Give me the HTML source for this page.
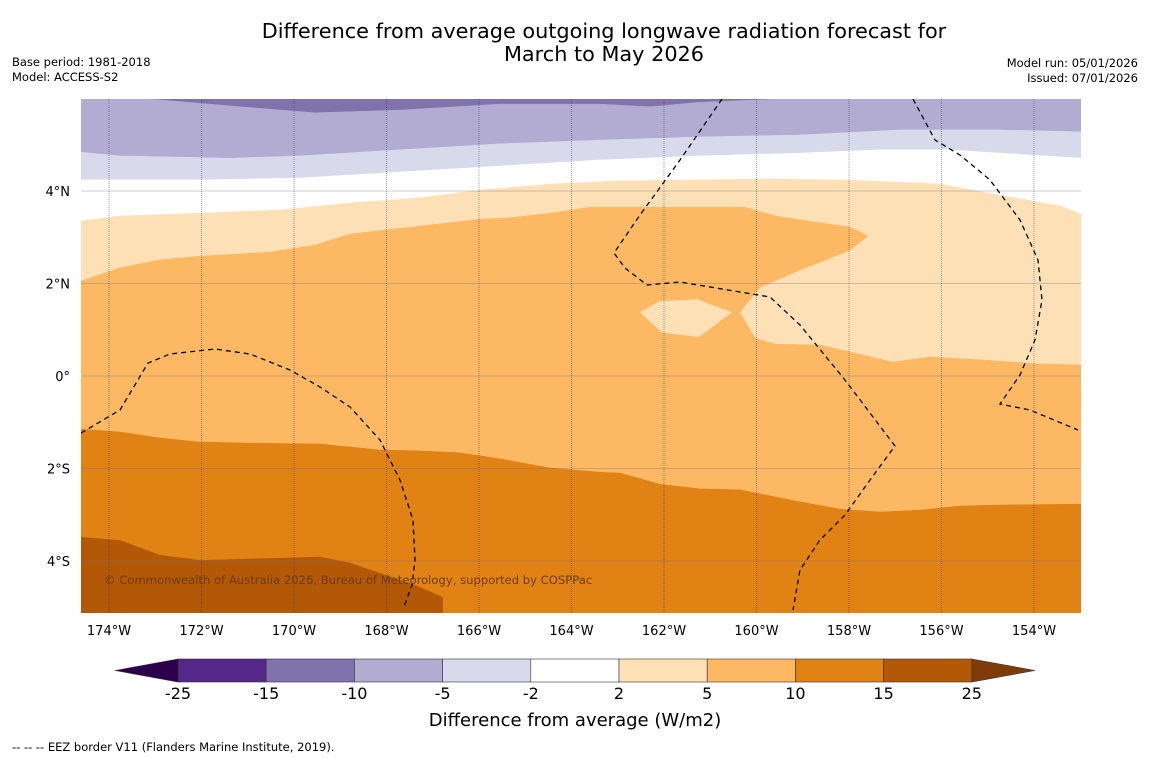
<!DOCTYPE html>
<html><head><meta charset="utf-8"><style>
body{margin:0;background:#fefefe;width:1150px;height:758px;overflow:hidden;font-family:"DejaVu Sans",sans-serif}
svg{position:absolute;left:0;top:0}
</style></head><body>
<svg id="c" width="1150" height="758" font-family="DejaVu Sans, sans-serif">
<text x="604" y="38" font-size="20.8" text-anchor="middle">Difference from average outgoing longwave radiation forecast for</text>
<text x="604" y="61" font-size="20.8" text-anchor="middle">March to May 2026</text>
<text x="12" y="66" font-size="11.5">Base period: 1981-2018</text>
<text x="12" y="81" font-size="11.5">Model: ACCESS-S2</text>
<text x="1138" y="67" font-size="11.5" text-anchor="end">Model run: 05/01/2026</text>
<text x="1138" y="82" font-size="11.5" text-anchor="end">Issued: 07/01/2026</text>
<defs><clipPath id="mc"><rect x="81" y="99" width="1000" height="514"/></clipPath></defs>
<g id="map" clip-path="url(#mc)"></g>
<g id="axes"></g>
<text x="104" y="584" font-size="11.6" fill="#6b3d12">© Commonwealth of Australia 2026, Bureau of Meteorology, supported by COSPPac</text>
<g id="cbar"></g>
<text x="575" y="726" font-size="18" text-anchor="middle">Difference from average (W/m2)</text>
<text x="12" y="751" font-size="11.5">--  --  -- EEZ border V11 (Flanders Marine Institute, 2019).</text>
</svg>
<script>
// axis extents
const lonTicks=[-174,-172,-170,-168,-166,-164,-162,-160,-158,-156,-154];
const lonLabels=["174°W","172°W","170°W","168°W","166°W","164°W","162°W","160°W","158°W","156°W","154°W"];
const latTicks=[4,2,0,-2,-4];
const latLabels=["4°N","2°N","0°","2°S","4°S"];
const levels=[-25,-15,-10,-5,-2,2,5,10,15,25];
const levelColors=["#542788","#8073ac","#b2abd2","#d8daeb","#ffffff","#fee0b6","#fdb863","#e08214","#b35806"];
// contour boundaries (lon / lat)
const b1Lon=[-174.7,-173.11,-171.38,-169.55,-167.71,-165.55,-163.38,-162.30,-161.22,-159.49,-152.9];
const b1Lat=[6.08,5.99,5.84,5.69,5.75,5.88,5.88,5.82,5.92,5.99,6.08];
const b2Lon=[-174.61,-173.76,-171.38,-169.87,-167.71,-165.55,-163.38,-161.22,-159.06,-156.90,-154.74,-152.98];
const b2Lat=[4.84,4.76,4.71,4.76,4.89,5.02,5.10,5.17,5.21,5.32,5.32,5.28];
const b3Lon=[-174.61,-172.03,-169.87,-167.71,-165.55,-163.38,-161.22,-159.06,-157.33,-155.82,-154.74,-152.98];
const b3Lat=[4.24,4.24,4.28,4.41,4.54,4.67,4.76,4.82,4.89,4.89,4.82,4.71];
const b4Lon=[-174.61,-173.76,-172.03,-170.30,-168.79,-167.28,-165.98,-164.46,-162.95,-161.22,-159.92,-158.19,-156.90,-156.03,-154.74,-153.44,-152.98];
const b4Lat=[3.35,3.46,3.52,3.59,3.74,3.85,4.02,4.15,4.22,4.24,4.26,4.24,4.19,4.15,3.91,3.68,3.50];
const b5Lon=[-174.61,-173.76,-172.90,-172.03,-170.52,-169.55,-168.79,-167.28,-165.98,-165.33,-164.46,-163.60,-161.22,-160.25,-159.92,-159.49,-157.98,-157.59,-157.98,-159.06,-159.92,-160.36,-160.03,-159.60,-158.63,-157.98,-157.05,-156.25,-155.17,-153.87,-152.98];
const b5Lat=[2.05,2.34,2.51,2.59,2.68,2.83,3.07,3.24,3.39,3.42,3.52,3.65,3.65,3.65,3.55,3.44,3.22,3.03,2.72,2.29,1.92,1.38,0.82,0.69,0.67,0.52,0.30,0.41,0.35,0.26,0.24];
const isleLon=[-162.52,-162.09,-161.29,-160.53,-161.24,-162.06];
const isleLat=[1.38,1.62,1.66,1.38,0.84,0.95];
const b6Lon=[-174.61,-173.76,-172.90,-172.03,-170.95,-169.44,-168.14,-167.28,-166.41,-165.55,-164.46,-163.38,-162.95,-162.09,-161.22,-160.36,-159.06,-158.19,-157.33,-156.46,-155.60,-154.74,-152.98];
const b6Lat=[-1.15,-1.21,-1.34,-1.43,-1.45,-1.47,-1.60,-1.62,-1.66,-1.79,-1.99,-2.08,-2.10,-2.34,-2.44,-2.46,-2.72,-2.88,-2.94,-2.90,-2.81,-2.79,-2.77];
const b7Lon=[-174.61,-173.76,-172.90,-172.03,-170.52,-169.44,-168.79,-168.14,-167.38,-166.78,-166.78];
const b7Lat=[-3.48,-3.55,-3.87,-3.98,-3.94,-3.91,-4.04,-4.26,-4.52,-4.78,-5.2];

const X=lon=>109+(lon+174)*46.25;
const Y=lat=>376-lat*46.25;
const NS="http://www.w3.org/2000/svg";
const map=document.getElementById('map'),axes=document.getElementById('axes'),cb=document.getElementById('cbar');
function mk(tag,attrs,parent){const e=document.createElementNS(NS,tag);for(const k in attrs)e.setAttribute(k,attrs[k]);parent.appendChild(e);return e;}
function pts(lons,lats){return lons.map((l,i)=>X(l).toFixed(1)+','+Y(lats[i]).toFixed(1));}
let bg=mk('rect',{x:81,y:99,width:1000,height:514,fill:levelColors[1]},map);


const bands=[[b1Lon,b1Lat,2,'band-minus10-to-minus5'],[b2Lon,b2Lat,3,'band-minus5-to-minus2'],[b3Lon,b3Lat,4,'band-minus2-to-2'],[b4Lon,b4Lat,5,'band-2-to-5'],[b5Lon,b5Lat,6,'band-5-to-10'],[b6Lon,b6Lat,7,'band-10-to-15']];
bands.forEach(b=>{
  const p=pts(b[0],b[1]);
  const poly=mk('polygon',{points:p.join(' ')+' 1090,620 70,620',fill:levelColors[b[2]],stroke:levelColors[b[2]],'stroke-width':0.5},map);
  
  
});
const isle=mk('polygon',{points:pts(isleLon,isleLat).join(' '),fill:levelColors[5]},map);


const b7=mk('polygon',{points:pts(b7Lon,b7Lat).join(' ')+' 70,620',fill:levelColors[8]},map);


latTicks.forEach((t,i)=>{
  const l=mk('line',{x1:81,x2:1081,y1:Y(t),y2:Y(t),stroke:'rgba(120,110,130,0.35)','stroke-width':1},map);
  
  
  const tx=mk('text',{x:70,y:Y(t)+5,'font-size':13,'text-anchor':'end'},axes);tx.textContent=latLabels[i];
  
  
});
lonTicks.forEach((t,i)=>{
  const l=mk('line',{x1:X(t),x2:X(t),y1:99,y2:613,stroke:'rgba(40,40,110,0.55)','stroke-width':0.8,'stroke-dasharray':'1,1'},map);
  
  
  const tx=mk('text',{x:X(t),y:635,'font-size':13,'text-anchor':'middle'},axes);tx.textContent=lonLabels[i];
  
  
});
const eez=[
 [[81,433],[120,410],[148,363],[170,354],[215,349],[250,354],[290,370],[320,387],[350,407],[380,440],[400,480],[413,520],[415,560],[412,585],[404,607]],
 [[722,99],[680,160],[640,215],[614,253],[625,268],[647,285],[680,282],[740,292],[770,297],[800,325],[845,380],[895,446],[870,480],[845,515],[820,540],[800,570],[793,610]],
 [[913,99],[935,140],[960,155],[990,180],[1020,220],[1038,260],[1042,300],[1035,340],[1020,375],[1000,404],[1030,410],[1078,430]]];
eez.forEach(s=>{
  const p=mk('polyline',{points:s.map(q=>q.join(',')).join(' '),fill:'none',stroke:'#000','stroke-width':1.3,'stroke-dasharray':'5,4'},map);
  
  
});
const cx0=178,cw=88.2,cy=659,ch=23;
for(let i=0;i<9;i++){
  const r=mk('rect',{x:cx0+i*cw,y:cy,width:cw,height:ch,fill:levelColors[i],stroke:'#333','stroke-width':0.6},cb);
  
  
}
const t1=mk('polygon',{points:`${cx0},${cy} 115,${cy+ch/2} ${cx0},${cy+ch}`,fill:'#2d004b',stroke:'#333','stroke-width':0.6},cb);


const xe=cx0+9*cw;
const t2=mk('polygon',{points:`${xe},${cy} 1035,${cy+ch/2} ${xe},${cy+ch}`,fill:'#7f3b08',stroke:'#333','stroke-width':0.6},cb);


levels.forEach((v,i)=>{
  const tx=mk('text',{x:cx0+i*cw,y:699,'font-size':16,'text-anchor':'middle'},cb);tx.textContent=v;
  
  
});
</script>
</body></html>
